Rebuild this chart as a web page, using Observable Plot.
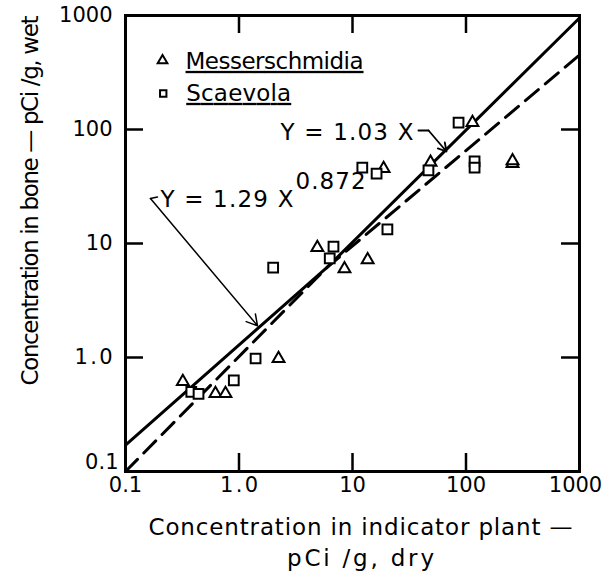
<!DOCTYPE html>
<html><head><meta charset="utf-8">
<script src="https://cdn.jsdelivr.net/npm/d3@7"></script>
<script src="https://cdn.jsdelivr.net/npm/@observablehq/plot@0.6"></script>
<style>body{margin:0;background:#fff;} svg{display:block}</style>
</head><body><div id="chart"></div>
<script>
// ---- data ----
const seriesNames = ["Messerschmidia", "Scaevola"];
const messX = [0.32, 0.62, 0.76, 2.23, 4.9, 8.5, 13.6, 18.8, 48.7, 114, 257, 257];
const messY = [0.615, 0.483, 0.483, 0.98, 9.2, 6.0, 7.2, 45.5, 51.4, 115, 50.3, 53];
const scaeX = [0.38, 0.44, 0.9, 1.4, 2.0, 6.8, 6.3, 20.3, 12.2, 16.3, 46.7, 86, 119, 119];
const scaeY = [0.5, 0.48, 0.63, 0.98, 6.15, 9.4, 7.4, 13.3, 46.4, 41.1, 43.7, 115, 52.4, 46.4];
const solidLineX = [0.1, 6, 1000];
const solidLineY = [0.17, 6.2, 950];
const dashedLineX = [0.1, 6, 1000];
const dashedLineY = [0.1, 6.2, 450];
const tickValues = [0.1, 1, 10, 100, 1000];
const tickLabels = ["0.1", "1.0", "10", "100", "1000"];
const innerTicks = [1, 10, 100];
const eqLinear = "Y = 1.03 X";
const eqPowerBase = "Y = 1.29 X";
const eqPowerExp = "0.872";
const xTitle = ["Concentration in indicator plant \u2014", "pCi /g, dry"];
const yTitle = "Concentration in bone \u2014 pCi /g, wet";

// ---- build ----
const W = 604, H = 577, mL = 125, mR = 25, mT = 15, mB = 106;
const innerW = W - mL - mR, innerH = H - mT - mB, T = 18;
const mess = messX.map((x, i) => ({x, y: messY[i]}));
const scae = scaeX.map((x, i) => ({x, y: scaeY[i]}));
const solid = solidLineX.map((x, i) => ({x, y: solidLineY[i]}));
const dashed = dashedLineX.map((x, i) => ({x, y: dashedLineY[i]}));
const font = "'DejaVu Sans', sans-serif";
const fs = 23, fsTick = 21;

const chart = Plot.plot({
  width: W, height: H,
  marginLeft: mL, marginRight: mR, marginTop: mT, marginBottom: mB,
  x: {type: "log", domain: [0.1, 1000], axis: null},
  y: {type: "log", domain: [0.1, 1000], axis: null},
  style: {fontFamily: font, fontSize: fs + "px", color: "#000", background: "#fff"},
  marks: [
    // inward ticks on all four sides
    Plot.ruleX(innerTicks, {x: d => d, insetTop: innerH - T, strokeWidth: 2.5}),
    Plot.ruleX(innerTicks, {x: d => d, insetBottom: innerH - T, strokeWidth: 2.5}),
    Plot.ruleY(innerTicks, {y: d => d, insetRight: innerW - T, strokeWidth: 2.5}),
    Plot.ruleY(innerTicks, {y: d => d, insetLeft: innerW - T, strokeWidth: 2.5}),
    // fit lines
    Plot.line(solid, {x: "x", y: "y", stroke: "#000", strokeWidth: 3}),
    Plot.line(dashed, {x: "x", y: "y", stroke: "#000", strokeWidth: 3, strokeDasharray: "17,9"}),
    // data
    Plot.dot(mess, {x: "x", y: "y", symbol: "triangle", r: 4.4, stroke: "#000", fill: "#fff", strokeWidth: 2}),
    Plot.dot(scae, {x: "x", y: "y", symbol: "square", r: 5.5, stroke: "#000", fill: "#fff", strokeWidth: 2}),
    Plot.frame({stroke: "#000", strokeWidth: 3}),
    // tick labels
    Plot.text(tickValues.slice(0, 4), {x: d => d, text: (d, i) => tickLabels[i], frameAnchor: "bottom", lineAnchor: "middle", dy: 14, fontSize: fsTick}),
    Plot.text(tickValues.slice(4), {x: d => d, text: (d, i) => tickLabels[i + 4], frameAnchor: "bottom", lineAnchor: "middle", dx: -4, dy: 14, fontSize: fsTick}),
    Plot.text(tickValues.slice(1), {y: d => d, text: (d, i) => tickLabels[i + 1], frameAnchor: "left", lineAnchor: "middle", dx: -13, textAnchor: "end", fontSize: fsTick}),
    Plot.text(tickValues.slice(0, 1), {y: d => d, text: (d, i) => tickLabels[i], frameAnchor: "left", lineAnchor: "middle", dx: -7, dy: -9, textAnchor: "end", fontSize: fsTick}),
    // axis titles
    Plot.text([xTitle[0]], {frameAnchor: "bottom", textAnchor: "middle", lineAnchor: "middle", dx: 8, dy: 56, fontSize: fs}),
    Plot.text([xTitle[1]], {frameAnchor: "bottom", textAnchor: "middle", lineAnchor: "middle", dx: 8, dy: 87, fontSize: fs}),
    Plot.text([yTitle], {frameAnchor: "left", textAnchor: "middle", lineAnchor: "middle", rotate: -90, dx: -95, dy: -43, fontSize: fs}),
    // legend
    Plot.dot([seriesNames[0]], {x: 0.212, y: 403, symbol: "triangle", r: 3.6, stroke: "#000", strokeWidth: 2}),
    Plot.dot([seriesNames[1]], {x: 0.215, y: 207, symbol: "square", r: 3.6, stroke: "#000", strokeWidth: 2}),
    Plot.text([seriesNames[0]], {x: 0.212, y: 403, dx: 23, dy: 1, textAnchor: "start", fontSize: fs}),
    Plot.text([seriesNames[1]], {x: 0.215, y: 207, dx: 23, dy: 0, textAnchor: "start", fontSize: fs}),
    // equations
    Plot.text([eqLinear], {x: 2.32, y: 94, textAnchor: "start", fontSize: fs}),
    Plot.text([eqPowerBase], {x: 0.203, y: 24.3, textAnchor: "start", fontSize: fs}),
    Plot.text([eqPowerExp], {x: 3.15, y: 35, textAnchor: "start", fontSize: fs}),
    // leaders
    Plot.line([[38.1, 98], [46.8, 98]], {x: d => d[0], y: d => d[1], strokeWidth: 1.8}),
    Plot.arrow([0], {x1: 46.8, y1: 98, x2: 67.3, y2: 64.1, strokeWidth: 1.8, headLength: 12, bend: 0}),
    Plot.line([[0.166, 24.8], [0.191, 25.6]], {x: d => d[0], y: d => d[1], strokeWidth: 1.6}),
    Plot.arrow([0], {x1: 0.166, y1: 24.8, x2: 1.455, y2: 1.9, strokeWidth: 1.5, headLength: 12, bend: 0})
  ]
});

// stretch letter spacing of texts to the widths seen in the reference
const fitWidths = new Map([
  [xTitle[0], 424], [xTitle[1], 147], [yTitle, 370],
  [seriesNames[0], 178], [seriesNames[1], 105],
  [eqLinear, 133], [eqPowerBase, 133], [eqPowerExp, 70], ["1.0", 38]
]);
d3.select(chart).selectAll("text").each(function() {
  const w = fitWidths.get(this.textContent);
  if (w) d3.select(this).attr("textLength", w).attr("lengthAdjust", "spacing");
});
d3.select(chart).selectAll("text").filter(function() {
  return seriesNames.includes(this.textContent);
}).style("text-decoration", "underline")
  .style("text-decoration-thickness", "2px")
  .style("text-underline-offset", "5px");

document.getElementById("chart").appendChild(chart);
</script>
</body></html>
